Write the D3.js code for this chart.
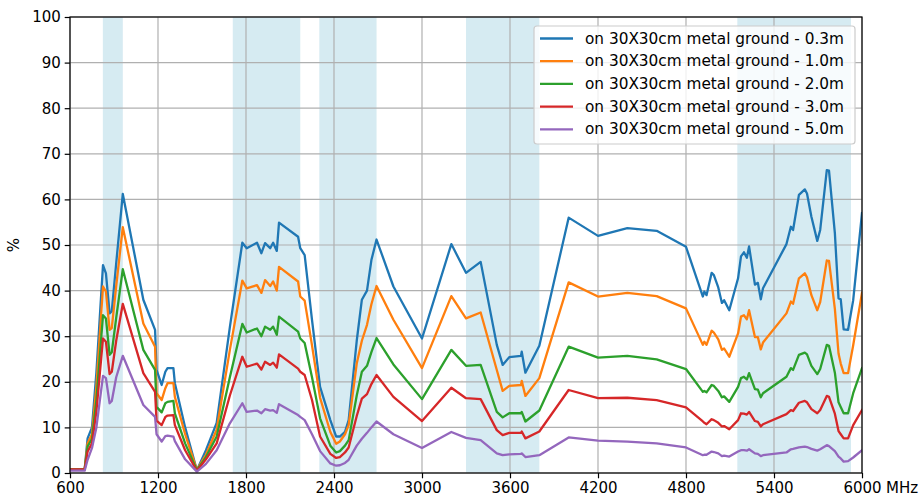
<!DOCTYPE html>
<html><head><meta charset="utf-8">
<script src="https://cdn.jsdelivr.net/npm/d3@7"></script>
<style>body{margin:0;background:#fff}svg{display:block}text{font-family:"DejaVu Sans",sans-serif;fill:#000}</style>
</head><body><svg id="c" width="924" height="502"></svg>
<script>
const freq = [600,700,720,750,780,825,845,870,885,915,960,1100,1180,1190,1225,1250,1265,1305,1315,1385,1465,1527,1600,1690,1775,1805,1875,1905,1930,1965,1985,2010,2025,2155,2170,2200,2250,2305,2375,2415,2440,2475,2500,2555,2590,2625,2655,2690,2805,3000,3200,3300,3400,3510,3550,3595,3675,3680,3705,3800,4000,4200,4400,4600,4800,4915,4925,4940,4975,4990,5020,5045,5060,5095,5155,5175,5195,5215,5230,5270,5290,5310,5325,5485,5515,5530,5570,5610,5625,5655,5695,5715,5760,5775,5815,5840,5855,5875,5905,5940,6000];
const s03 = [0.8,0.8,7.6,10,22,45.6,43.8,35,35.5,46,61.2,38,31.4,22.6,19.3,22.2,23,23,19.7,10,0.6,5,11,32,50.5,49.3,50.5,48.2,50.4,49.3,50.5,48.7,54.9,51.8,49.3,47.8,33.6,18.9,11.6,8,8,9,11.6,29,38,40,46.7,51.2,40.9,29.5,50.2,43.9,46.3,28.1,23.7,25.4,25.7,26.6,22,27.9,56,52,53.7,53.1,49.6,38.7,39.8,39,43.9,43.4,40.7,37.3,37.9,35.7,42.7,47.5,48.4,47.2,49.7,41.3,41.7,38.1,40.5,50.2,54,53.3,61,62.2,61.3,56.2,50.9,53.3,66.4,66.3,52.6,38.3,38.1,31.5,31.4,37.9,57];
const s10 = [0.8,0.8,6.5,8.5,19,40.9,39.8,31.4,31.8,41,53.9,32.8,27.7,17.5,16,18.6,19.7,19.7,16.7,8.5,0.7,4,9.5,27,42.2,40.5,41.2,39.5,42.3,41,42,40,45.2,42,38.7,37.8,28,16.5,9,6.4,6.9,8.5,10.5,24,29,32.5,37,41,33.6,23,38.8,33.9,35.2,22.6,18,19.1,19.3,20.2,16.9,20.8,41.8,38.7,39.5,38.8,36.1,28.1,28.8,28.1,31.2,30.8,29.3,27,27.3,25.5,30.6,34.3,34.6,33.7,35.7,29.8,29.8,27.1,28.6,35,37.6,37.1,42.7,43.8,42.9,39,35.7,37.5,46.6,46.5,36,26.2,24,21.9,21.9,28,39.5];
const s20 = [0.8,0.8,5.8,7.5,16,34.6,33.9,25.9,26.5,34,44.7,27,22.6,14.5,13.3,15.3,15.6,15.8,13.1,6.5,0.6,3.5,8,21,32.7,30.8,31.7,30,32.1,31.4,32.1,30.3,34.3,31,29.5,28.5,21,12,6,4.5,4.8,6,7.2,17,22.2,23.5,26.5,29.6,23.8,16.2,27,23.5,23.7,13.4,12.2,13.1,13.1,13.4,11.3,13.7,27.7,25.3,25.7,24.9,22.8,17.8,18,17.7,19.3,19.1,18,16.6,16.8,15.6,18.9,20.8,21.1,20.5,21.9,18.4,18.3,16.6,17.5,21.1,23,22.6,25.9,26.4,26,23.5,21.7,22.8,28.1,27.9,22,15.5,14.5,13.1,13.1,17.5,23];
const s30 = [0.8,0.8,4.7,6.5,13.5,29.5,28.8,21.7,22.2,29,37.1,21.9,17.8,11.5,10.5,12.3,12.6,12.7,10.5,5,0.5,3,6.5,17,25.5,23.3,24,22.7,24.4,23.7,24.2,23.1,26,22.9,22.2,21.5,16,8,4.2,3.3,3.5,4.5,5.6,12.5,16.3,17.3,19.5,21.5,16.7,11.4,18.7,16.4,16.2,9.4,8.3,8.8,8.8,9.1,7.6,9.1,18.2,16.4,16.5,16,14.4,11.3,11,10.7,11.8,11.6,11,10.2,10.3,9.6,11.6,13.1,13,12.8,13.4,11.4,11.2,10.2,10.7,12.9,13.8,13.6,15.4,15.8,15.5,14,13.1,13.8,16.9,16.7,13,9.2,8.5,7.6,7.6,10.5,13.8];
const s50 = [0.5,0.5,2.9,5.5,10,21.3,20.8,15.3,15.8,21,25.7,14.9,12.3,8.5,6.9,8.1,8.2,8,7,3,0.3,2,5,10.9,15.3,13.4,13.7,13.1,14,13.7,13.8,13.2,15.1,12.7,12.3,11.6,8.5,4.8,2.1,1.6,1.7,2.2,2.9,6,7.5,8.8,10,11.3,8.5,5.5,9,7.7,7.2,4.3,3.9,4.1,4.2,4.3,3.5,3.9,7.8,7.1,6.9,6.5,5.6,3.9,4,4,4.7,4.6,4.3,3.7,3.8,3.6,4.7,5,5,4.9,5.2,4.3,4.2,3.7,3.9,4.5,5.2,5.3,5.6,5.8,5.7,5.3,4.9,5.2,6.1,5.9,4.8,3.6,3.2,2.5,2.6,3.4,5];
const seriesNames = ["on 30X30cm metal ground - 0.3m","on 30X30cm metal ground - 1.0m","on 30X30cm metal ground - 2.0m","on 30X30cm metal ground - 3.0m","on 30X30cm metal ground - 5.0m"];
const seriesValues = [s03, s10, s20, s30, s50];
const colors = ["#1f77b4","#ff7f0e","#2ca02c","#d62728","#9467bd"];
const bandStart = [824, 1710, 2300, 3300, 5150];
const bandEnd = [960, 2170, 2690, 3800, 5925];
const xTicks = [600,1200,1800,2400,3000,3600,4200,4800,5400,6000];
const yTicks = [0,10,20,30,40,50,60,70,80,90,100];
const xUnit = "MHz";
const yLabel = "%";

const svg = d3.select("#c");
const L = 70, R = 862, T = 17, B = 473;
const fs = 15;
const x = d3.scaleLinear().domain([600, 6000]).range([L, R]);
const y = d3.scaleLinear().domain([0, 100]).range([B, T]);

// bands
svg.append("g").selectAll("rect").data(bandStart.map((s,i)=>[s,bandEnd[i]])).join("rect")
  .attr("x", d=>x(d[0])).attr("width", d=>x(d[1])-x(d[0]))
  .attr("y", T).attr("height", B-T).attr("fill", "lightblue").attr("opacity", 0.5);

// grid
const g = svg.append("g");
g.selectAll("line.vx").data(xTicks).join("line").attr("x1",d=>x(d)).attr("x2",d=>x(d)).attr("y1",T).attr("y2",B)
  .attr("stroke","#b0b0b0").attr("stroke-width",1.2);
g.selectAll("line.hy").data(yTicks).join("line").attr("class","hy").attr("y1",d=>y(d)).attr("y2",d=>y(d)).attr("x1",L).attr("x2",R)
  .attr("stroke","#b0b0b0").attr("stroke-width",1.2);

// clip
svg.append("clipPath").attr("id","clip").append("rect").attr("x",L).attr("y",T).attr("width",R-L).attr("height",B-T);

const line = d3.line().x((d,i)=>x(freq[i])).y(d=>y(d));
svg.append("g").attr("clip-path","url(#clip)").selectAll("path").data(seriesValues).join("path")
  .attr("d", d=>line(d)).attr("fill","none").attr("stroke",(d,i)=>colors[i])
  .attr("stroke-width",2.3).attr("stroke-linejoin","round").attr("stroke-linecap","square");

// axes
const xAxis = d3.axisBottom(x).tickValues(xTicks).tickSize(5.3).tickPadding(3.8).tickFormat(d3.format("d"));
const yAxis = d3.axisLeft(y).tickValues(yTicks).tickSize(5.3).tickPadding(3.8).tickFormat(d3.format("d"));
const gx = svg.append("g").attr("transform",`translate(0,${B})`).call(xAxis);
const gy = svg.append("g").attr("transform",`translate(${L},0)`).call(yAxis);
[gx, gy].forEach(a=>{
  a.select(".domain").remove();
  a.selectAll(".tick line").attr("stroke","#000").attr("stroke-width",1.2);
  a.selectAll(".tick text").attr("font-size",fs).attr("font-family","DejaVu Sans").attr("fill","#000");
});
svg.append("text").attr("x", x(6000)+24).attr("y", B+5.3+3.8).attr("dy","0.71em").attr("font-size",fs).text(xUnit);

// spines
svg.append("rect").attr("x",L).attr("y",T).attr("width",R-L).attr("height",B-T).attr("fill","none").attr("stroke","#000").attr("stroke-width",1.2);

// y label
svg.append("text").attr("transform",`translate(14,${(T+B)/2}) rotate(-90)`).attr("text-anchor","middle").attr("dominant-baseline","central").attr("font-size",fs).text(yLabel);

// legend
const lg = svg.append("g");
lg.append("rect").attr("x",534).attr("y",26).attr("width",321).attr("height",118).attr("rx",3)
  .attr("fill","#fff").attr("fill-opacity",0.8).attr("stroke","#cccccc").attr("stroke-width",1.2);
seriesNames.forEach((n,i)=>{
  const yy = 38.5 + i*22.7;
  lg.append("line").attr("x1",540).attr("x2",573).attr("y1",yy).attr("y2",yy).attr("stroke",colors[i]).attr("stroke-width",2.3);
  lg.append("text").attr("x",585).attr("y",yy).attr("dominant-baseline","central").attr("font-size",15.3).text(n);
});
</script></body></html>
